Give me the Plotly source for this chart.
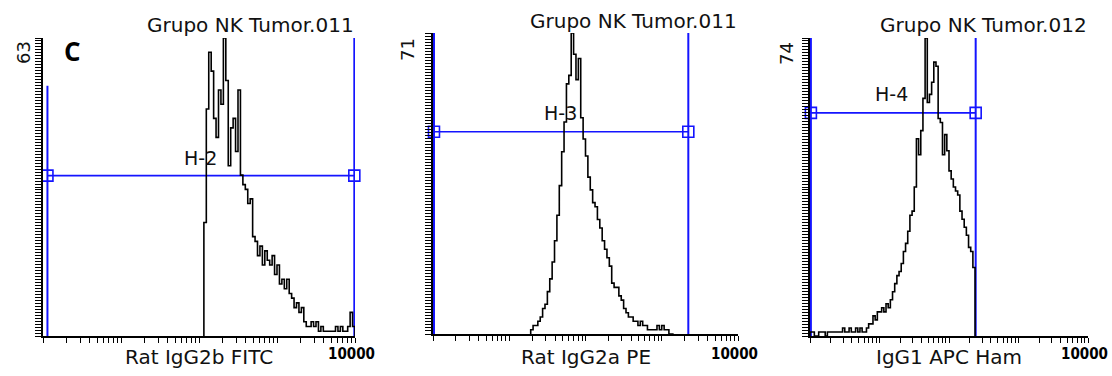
import numpy as np
import plotly.graph_objects as go

W, H = 1112, 376

# histogram resolution: channels spread evenly over four log decades
N_CHANNELS = 128
DECADES = 4

titles = ["Grupo NK Tumor.011", "Grupo NK Tumor.011", "Grupo NK Tumor.012"]
x_labels = ["Rat IgG2b FITC", "Rat IgG2a PE", "IgG1 APC Ham"]
y_max = [63, 71, 74]
x_end_label = "10000"
gate_names = ["H-2", "H-3", "H-4"]

# event counts per channel, starting at the given channel
fitc_start = 66
fitc_counts = [24, 48, 60, 56, 46, 42, 52, 49, 63, 54,
               36, 44, 46, 39, 52, 34, 32, 31, 28, 29,
               21, 20, 17, 19, 15, 18, 16, 15, 17, 13,
               15, 11, 12, 10, 12, 9, 8, 6, 7, 5,
               6, 3, 2, 2, 3, 2, 3, 1, 2, 1,
               1, 1, 1, 1, 2, 1, 2, 1, 1, 2,
               5, 2]

pe_start = 41
pe_counts = [1, 2, 2, 3, 4, 6, 7, 10, 13, 17,
             22, 28, 35, 43, 50, 59, 61, 71, 66, 60,
             65, 51, 46, 42, 37, 34, 31, 30, 27, 25,
             22, 20, 18, 16, 12, 11, 11, 9, 8, 6,
             5, 4, 4, 3, 3, 2, 3, 2, 2, 1,
             1, 1, 1, 2, 1, 2, 1, 1, 0, 0]

apc_start = 0
apc_counts = [1, 1, 0, 0, 1, 1, 1, 0, 1, 1,
              1, 1, 1, 1, 1, 2, 1, 1, 2, 1,
              1, 2, 1, 2, 1, 1, 2,
              3, 3, 5, 4, 6, 6, 7, 6, 8, 7,
              9, 11, 13, 15, 16, 18, 21, 23, 26, 30,
              31, 37, 49, 45, 51, 59, 74, 58, 60, 63,
              68, 67, 54, 53, 45, 50, 46, 41, 39, 37,
              36, 35, 31, 29, 27, 25, 22, 21, 17]

hist_starts = [fitc_start, pe_start, apc_start]
hist_counts = [fitc_counts, pe_counts, apc_counts]

# histogram gates (marker positions and level)
gate_low = [1.14, 1.03, 1.03]
gate_high = [9800, 2230, 242]
gate_level = [33.9, 47.7, 55.4]
gate_left_top = [52.9, 71, 74]
gate_label_x = [104, 47, 15]
gate_label_y = [37.7, 52.2, 60.1]

# plot boxes in pixels: left, right, top, bottom
boxes = [(43, 355, 38, 336), (433, 738, 33, 334), (810, 1088, 38, 336)]
title_y = [25, 21, 25]
max_label_pos = [(23, 53), (407, 50), (787, 54)]

BLUE = "#1414ff"
FONT = "DejaVu Sans, Verdana, sans-serif"

edges = 10 ** (DECADES * np.arange(N_CHANNELS + 1) / N_CHANNELS)
x_ticks = [m * 10 ** d for d in range(DECADES) for m in range(1, 10)] + [10 ** DECADES]


def px(x):
    return x / W


def py(y):
    return 1 - y / H


fig = go.Figure()
annotations = []
layout_axes = {}

for i in range(3):
    n = i + 1
    xa = "x" if n == 1 else f"x{n}"
    ya = "y" if n == 1 else f"y{n}"
    left, right, top, bottom = boxes[i]

    layout_axes["xaxis" if n == 1 else f"xaxis{n}"] = dict(
        type="log", range=[0, DECADES], domain=[px(left), px(right)],
        anchor=ya, showline=True, linecolor="black", linewidth=1.6,
        ticks="outside", ticklen=5, tickwidth=1.3, tickcolor="black",
        tickvals=x_ticks, showticklabels=False, showgrid=False,
        zeroline=False, fixedrange=True,
    )
    layout_axes["yaxis" if n == 1 else f"yaxis{n}"] = dict(
        range=[0, y_max[i]], domain=[py(bottom), py(top)],
        anchor=xa, showline=True, linecolor="black", linewidth=1.6,
        ticks="outside", ticklen=6, tickwidth=1, tickcolor="black",
        tickvals=list(np.linspace(0, y_max[i], 101)), showticklabels=False,
        showgrid=False, zeroline=False, fixedrange=True,
    )

    # gate: two vertical markers and the horizontal bar with end squares
    fig.add_trace(go.Scatter(
        x=[gate_low[i], gate_low[i]], y=[0, gate_left_top[i]],
        mode="lines", line=dict(color=BLUE, width=2),
        xaxis=xa, yaxis=ya, hoverinfo="skip", showlegend=False))
    fig.add_trace(go.Scatter(
        x=[gate_high[i], gate_high[i]], y=[0, y_max[i]],
        mode="lines", line=dict(color=BLUE, width=2),
        xaxis=xa, yaxis=ya, hoverinfo="skip", showlegend=False))
    fig.add_trace(go.Scatter(
        x=[gate_low[i], gate_high[i]], y=[gate_level[i], gate_level[i]],
        mode="lines+markers", line=dict(color=BLUE, width=1.6),
        marker=dict(symbol="square-open", size=11, color=BLUE,
                    line=dict(color=BLUE, width=1.6)),
        cliponaxis=False, xaxis=xa, yaxis=ya, hoverinfo="skip",
        showlegend=False))

    # histogram as a step outline
    s = hist_starts[i]
    c = hist_counts[i]
    hx = [edges[s]] + list(edges[s:s + len(c) + 1])
    hy = [0] + list(c) + [0]
    fig.add_trace(go.Scatter(
        x=hx, y=hy, mode="lines", line=dict(color="black", width=1.6, shape="hv"),
        xaxis=xa, yaxis=ya, hoverinfo="skip", showlegend=False))

    annotations.append(dict(
        text=gate_names[i], x=np.log10(gate_label_x[i]), y=gate_label_y[i],
        xref=xa, yref=ya, showarrow=False, xanchor="center", yanchor="middle",
        font=dict(family=FONT, size=19, color="#111111")))

    annotations.append(dict(
        text=titles[i], x=px(right + 1), y=py(title_y[i]), xref="paper", yref="paper",
        showarrow=False, xanchor="right", yanchor="middle",
        font=dict(family=FONT, size=20, color="#111111")))

    annotations.append(dict(
        text=x_labels[i], x=px((left + right) / 2), y=py(357), xref="paper", yref="paper",
        showarrow=False, xanchor="center", yanchor="middle",
        font=dict(family=FONT, size=20, color="#111111")))

    annotations.append(dict(
        text=x_end_label, x=px(right - 4), y=py(354), xref="paper", yref="paper",
        showarrow=False, xanchor="center", yanchor="middle",
        font=dict(family="Liberation Sans Narrow, DejaVu Sans Condensed, Liberation Sans, sans-serif",
                  size=15, color="black", weight="bold")))

    mx, my = max_label_pos[i]
    annotations.append(dict(
        text=str(y_max[i]), x=px(mx), y=py(my), xref="paper", yref="paper",
        showarrow=False, textangle=-90, xanchor="center", yanchor="middle",
        font=dict(family=FONT, size=18, color="#111111")))

# panel letter
annotations.append(dict(
    text="<b>C</b>", x=px(72), y=py(51), xref="paper", yref="paper",
    showarrow=False, xanchor="center", yanchor="middle",
    font=dict(family="Open Sans, Lato, sans-serif", size=26, color="black")))

fig.update_layout(
    width=W, height=H, margin=dict(l=0, r=0, t=0, b=0),
    paper_bgcolor="white", plot_bgcolor="white",
    showlegend=False, annotations=annotations, **layout_axes,
)

fig.write_html("out.html", config={"displayModeBar": False})
